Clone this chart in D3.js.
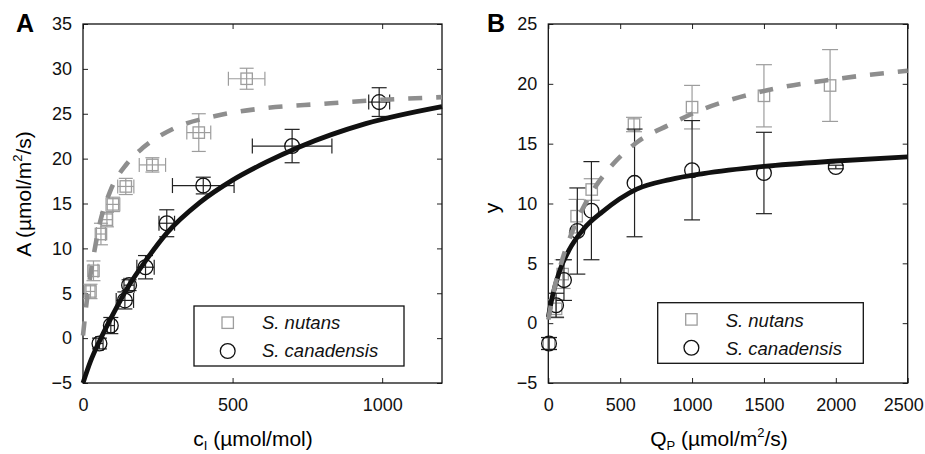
<!DOCTYPE html>
<html><head><meta charset="utf-8">
<script src="https://cdn.jsdelivr.net/npm/d3@7"></script>
<style>
body{margin:0;background:#fff;}
svg{display:block;font-family:"Liberation Sans",Arial,Helvetica,sans-serif;}
</style></head>
<body>
<svg id="chart" width="925" height="454"></svg>
<script>
// ---------- Panel A data ----------
const nutansA_x    = [25, 35, 60, 80, 100, 143, 232, 387, 547];
const nutansA_y    = [5.2, 7.5, 11.6, 13.2, 14.9, 16.9, 19.3, 22.9, 28.9];
const nutansA_xerr = [15, 15, 15, 18, 23, 27, 44, 40, 61];
const nutansA_yerr = [0.8, 1.1, 1.2, 0.8, 0.8, 0.9, 0.8, 2.1, 1.17];

const canadA_x    = [55, 93, 140, 154, 209, 280, 402, 699, 990];
const canadA_y    = [-0.6, 1.4, 4.2, 5.9, 7.9, 12.8, 17.0, 21.4, 26.3];
const canadA_xerr = [12, 12, 29, 17, 29, 26, 103, 133, 35];
const canadA_yerr = [0.6, 0.9, 0.95, 0.6, 1.3, 1.5, 0.93, 1.86, 1.6];

const fitNutansA_x = [0, 15, 29, 57, 90, 146, 200, 300, 450, 600, 800, 1000, 1200];
const fitNutansA_y = [0.3, 4.8, 7.9, 12.9, 16.3, 19.4, 21.2, 23.3, 24.8, 25.6, 26.1, 26.55, 26.85];
const fitCanadA_x  = [0, 25, 57, 93, 154, 209, 280, 390, 500, 612, 723, 945, 1200];
const fitCanadA_y  = [-5, -2.6, -0.2, 2.2, 5.9, 8.6, 11.7, 15.1, 17.6, 19.6, 21.3, 23.9, 25.8];

const ticksAx = [0, 500, 1000];
const ticksAy = [-5, 0, 5, 10, 15, 20, 25, 30, 35];

// ---------- Panel B data ----------
const nutansB_x   = [5, 54, 100, 197, 302, 596, 1000, 1500, 1960];
const nutansB_y   = [-1.7, 1.2, 4.1, 8.94, 11.17, 16.6, 18.05, 19.0, 19.86];
const nutansB_err = [0.5, 0.75, 1.2, 1.4, 0.9, 0.6, 1.82, 2.6, 3.0];

const canadB_x   = [5, 54, 109, 202, 300, 600, 1000, 1500, 2000];
const canadB_y   = [-1.7, 1.5, 3.6, 7.7, 9.4, 11.72, 12.78, 12.55, 13.05];
const canadB_err = [0.5, 1.0, 1.7, 3.6, 4.1, 4.5, 4.15, 3.4, 0.15];

const fitNutansB_x = [0, 40, 97, 179, 267, 429, 615, 846, 1000, 1500, 2000, 2500];
const fitNutansB_y = [0.3, 2.8, 5.3, 8.0, 10.2, 13.0, 15.1, 16.6, 17.5, 19.4, 20.4, 21.1];
const fitCanadB_x  = [0, 28, 74, 144, 248, 376, 615, 846, 1078, 1500, 2000, 2500];
const fitCanadB_y  = [0.5, 2.2, 4.2, 6.1, 7.9, 9.3, 11.2, 12.0, 12.5, 13.1, 13.55, 13.9];

const ticksBx = [0, 500, 1000, 1500, 2000, 2500];
const ticksBy = [-5, 0, 5, 10, 15, 20, 25];

const legendNames = ["S. nutans", "S. canadensis"];

// ---------- styles ----------
const GREY_MK = "#9d9d9d", GREY_LINE = "#8e8e8e", BLACK = "#111";
const FS = 18;       // tick labels
const FS_LEG = 18.5; // legend
const FS_AX = 21;    // axis titles
const FS_SUB = 13;

const svg = d3.select("#chart");

function panel(opts) {
  const {left, right, top, bottom, xDomain, yDomain, xTicks, yTicks} = opts;
  const x = d3.scaleLinear().domain(xDomain).range([left, right]);
  const y = d3.scaleLinear().domain(yDomain).range([bottom, top]);
  const g = svg.append("g");
  const fmt = d3.format("");

  const ax = (axis, tx, ty, labels) => {
    const a = g.append("g").attr("transform", `translate(${tx},${ty})`).call(axis);
    a.select(".domain").remove();
    a.selectAll(".tick line").attr("stroke", "#222").attr("stroke-width", 1);
    a.selectAll("text").attr("font-size", FS).attr("fill", "#111")
      .attr("font-family", "'Liberation Sans',Arial,sans-serif");
    if (!labels) a.selectAll("text").remove();
    return a;
  };
  const bx = ax(d3.axisBottom(x).tickValues(xTicks).tickFormat(fmt).tickSizeInner(-5).tickSizeOuter(0).tickPadding(15), 0, bottom, true);
  ax(d3.axisTop(x).tickValues(xTicks).tickSizeInner(-5).tickSizeOuter(0), 0, top, false);
  ax(d3.axisLeft(y).tickValues(yTicks).tickFormat(fmt).tickSizeInner(-5).tickSizeOuter(0).tickPadding(11), left, 0, true);
  ax(d3.axisRight(y).tickValues(yTicks).tickSizeInner(-5).tickSizeOuter(0), right, 0, false);

  g.append("rect").attr("x", left).attr("y", top).attr("width", right - left).attr("height", bottom - top)
    .attr("fill", "none").attr("stroke", "#111").attr("stroke-width", 1.3);

  const plot = g.append("g");
  return {x, y, g, plot, bx};
}

function errorBars(P, xs, ys, yerr, xerr, color, cap) {
  const grp = P.plot.append("g").attr("stroke", color).attr("stroke-width", 1.2).attr("fill", "none");
  xs.forEach((xv, i) => {
    const cx = P.x(xv), cy = P.y(ys[i]);
    const y0 = P.y(ys[i] - yerr[i]), y1 = P.y(ys[i] + yerr[i]);
    grp.append("line").attr("x1", cx).attr("x2", cx).attr("y1", y0).attr("y2", y1);
    grp.append("line").attr("x1", cx - cap).attr("x2", cx + cap).attr("y1", y0).attr("y2", y0);
    grp.append("line").attr("x1", cx - cap).attr("x2", cx + cap).attr("y1", y1).attr("y2", y1);
    if (xerr) {
      const x0 = P.x(xv - xerr[i]), x1 = P.x(xv + xerr[i]);
      grp.append("line").attr("x1", x0).attr("x2", x1).attr("y1", cy).attr("y2", cy);
      grp.append("line").attr("x1", x0).attr("x2", x0).attr("y1", cy - cap).attr("y2", cy + cap);
      grp.append("line").attr("x1", x1).attr("x2", x1).attr("y1", cy - cap).attr("y2", cy + cap);
    }
  });
}
function squares(P, xs, ys) {
  P.plot.append("g").selectAll("rect").data(xs).join("rect")
    .attr("x", (d) => P.x(d) - 5.7).attr("y", (d, i) => P.y(ys[i]) - 5.7)
    .attr("width", 11.4).attr("height", 11.4)
    .attr("fill", "none").attr("stroke", GREY_MK).attr("stroke-width", 1.3);
}
function circles(P, xs, ys) {
  P.plot.append("g").selectAll("circle").data(xs).join("circle")
    .attr("cx", (d) => P.x(d)).attr("cy", (d, i) => P.y(ys[i])).attr("r", 7.4)
    .attr("fill", "none").attr("stroke", BLACK).attr("stroke-width", 1.3);
}
function fitLine(P, xs, ys, color, dashed) {
  const line = d3.line().x((d) => P.x(d)).y((d, i) => P.y(ys[i])).curve(d3.curveMonotoneX);
  P.plot.append("path").attr("d", line(xs)).attr("fill", "none").attr("stroke", color)
    .attr("stroke-width", dashed ? 4.6 : 4.8)
    .attr("stroke-dasharray", dashed ? "14,14" : null);
}
function legend(P, bx, by, bw, bh, t1, t2) {
  const lg = P.g.append("g");
  lg.append("rect").attr("x", bx).attr("y", by).attr("width", bw).attr("height", bh)
    .attr("fill", "#fff").attr("stroke", "#111").attr("stroke-width", 1.3);
  lg.append("rect").attr("x", bx + 28).attr("y", by + 11).attr("width", 11.4).attr("height", 11.4)
    .attr("fill", "none").attr("stroke", GREY_MK).attr("stroke-width", 1.3);
  lg.append("circle").attr("cx", bx + 33.7).attr("cy", by + 45).attr("r", 7.4)
    .attr("fill", "none").attr("stroke", BLACK).attr("stroke-width", 1.3);
  legendNames.forEach((n, i) => {
    lg.append("text").attr("x", bx + 68).attr("y", by + (i ? t2 : t1))
      .attr("font-size", FS_LEG).attr("font-style", "italic").attr("fill", "#111").text(n);
  });
}

// ---------- Panel A ----------
const A = panel({left: 83, right: 442, top: 24, bottom: 383,
  xDomain: [0, 1200], yDomain: [-5, 35], xTicks: ticksAx, yTicks: ticksAy});
errorBars(A, nutansA_x, nutansA_y, nutansA_yerr, nutansA_xerr, GREY_MK, 7);
squares(A, nutansA_x, nutansA_y);
errorBars(A, canadA_x, canadA_y, canadA_yerr, canadA_xerr, "#222", 7.5);
circles(A, canadA_x, canadA_y);
fitLine(A, fitCanadA_x, fitCanadA_y, BLACK, false);
fitLine(A, fitNutansA_x, fitNutansA_y, GREY_LINE, true);
legend(A, 194, 306, 210, 60, 22.5, 51);

// ---------- Panel B ----------
const B = panel({left: 548.3, right: 907.7, top: 24, bottom: 383,
  xDomain: [0, 2500], yDomain: [-5, 25], xTicks: ticksBx, yTicks: ticksBy});
// keep the last tick label inside the picture, as in the reference
B.bx.selectAll(".tick text").filter((d) => d === 2500).attr("text-anchor", "end").attr("dx", 15.5);
errorBars(B, nutansB_x, nutansB_y, nutansB_err, null, GREY_MK, 8);
squares(B, nutansB_x, nutansB_y);
errorBars(B, canadB_x, canadB_y, canadB_err, null, "#222", 8);
circles(B, canadB_x, canadB_y);
fitLine(B, fitCanadB_x, fitCanadB_y, BLACK, false);
fitLine(B, fitNutansB_x, fitNutansB_y, GREY_LINE, true);
legend(B, 657.7, 302.7, 205.6, 60.6, 24, 52.3);

// ---------- Titles / labels ----------
svg.append("text").attr("x", 16).attr("y", 32).attr("font-size", 25).attr("font-weight", "bold").text("A");
svg.append("text").attr("x", 487).attr("y", 32).attr("font-size", 25).attr("font-weight", "bold").text("B");

const xl1 = svg.append("text").attr("x", 253).attr("y", 446).attr("text-anchor", "middle").attr("font-size", FS_AX);
xl1.append("tspan").text("c");
xl1.append("tspan").attr("font-size", FS_SUB).attr("dy", 4).text("I");
xl1.append("tspan").attr("dy", -4).text(" (µmol/mol)");

const xl2 = svg.append("text").attr("x", 719).attr("y", 446).attr("text-anchor", "middle").attr("font-size", FS_AX);
xl2.append("tspan").text("Q");
xl2.append("tspan").attr("font-size", FS_SUB).attr("dy", 4).text("P");
xl2.append("tspan").attr("dy", -4).text(" (µmol/m");
xl2.append("tspan").attr("font-size", FS_SUB).attr("dy", -9).text("2");
xl2.append("tspan").attr("dy", 9).text("/s)");

const yl1 = svg.append("text").attr("transform", "translate(31,194) rotate(-90)").attr("text-anchor", "middle").attr("font-size", FS_AX);
yl1.append("tspan").text("A (µmol/m");
yl1.append("tspan").attr("font-size", FS_SUB).attr("dy", -9).text("2");
yl1.append("tspan").attr("dy", 9).text("/s)");

svg.append("text").attr("transform", "translate(499,208) rotate(-90)").attr("text-anchor", "middle").attr("font-size", FS_AX).text("y");
</script>
</body></html>
